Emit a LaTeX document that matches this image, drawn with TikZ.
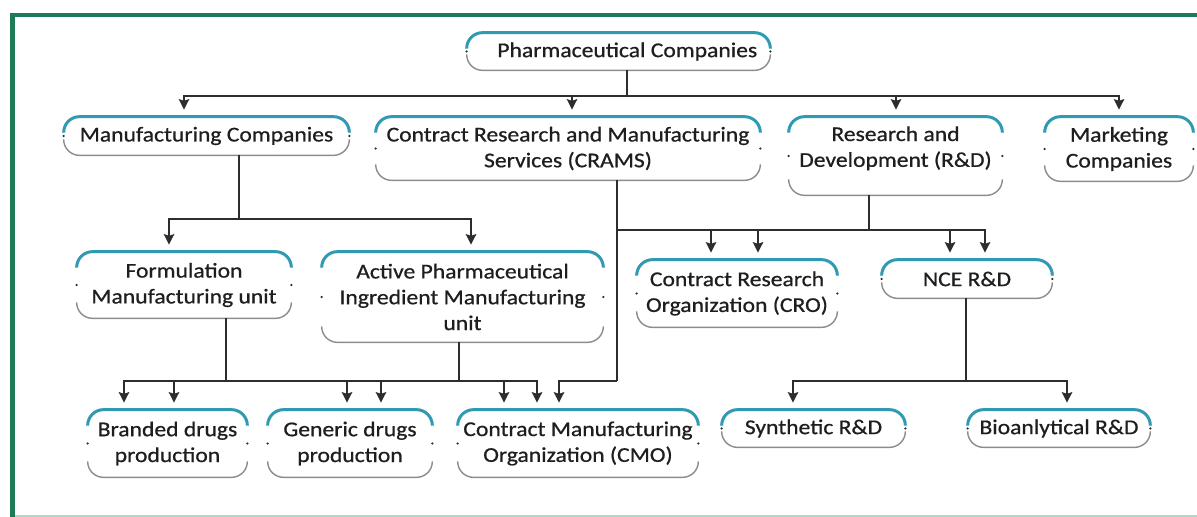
\documentclass[tikz,border=0pt]{standalone}
\usepackage{fontspec}
\setmainfont{Carlito}[FakeStretch=1.12,RawFeature={embolden=0.7}]
\usetikzlibrary{calc,arrows.meta}
\definecolor{framegreen}{RGB}{31,122,87}
\definecolor{framemint}{RGB}{170,218,200}
\definecolor{capteal}{RGB}{48,154,178}
\definecolor{basegray}{RGB}{140,140,140}
\definecolor{linkgray}{RGB}{45,45,45}
\definecolor{inkgray}{RGB}{30,30,30}
\tikzset{
  box/.style={inner sep=0pt, align=center, text=inkgray,
    font=\fontsize{12}{14.7}\selectfont},
  topcap/.style={capteal, line width=1.7pt, rounded corners=9pt},
  bottomline/.style={basegray, line width=0.8pt, rounded corners=9pt},
  link/.style={linkgray, line width=0.85pt},
  arr/.style={link, -{Stealth[length=6pt,width=6pt,inset=1pt]}, shorten >=4pt},
}
% teal cap on top, grey base below, dots at the sides
\newcommand\boxlines[1]{%
  \draw[topcap] ($(#1.north west)+(0,16)$) |- (#1.north) -| ($(#1.north east)+(0,16)$);
  \draw[bottomline] ($(#1.south west)+(0,-16)$) |- (#1.south) -| ($(#1.south east)+(0,-16)$);
  \fill[linkgray] (#1.west) circle (0.7pt) (#1.east) circle (0.7pt);}
\begin{document}
\begin{tikzpicture}[x=0.02cm,y=-0.02cm]
  \useasboundingbox (0,0) rectangle (1197,517);
  \fill[framegreen] (10,13) rectangle (1197,17);
  \fill[framegreen] (10,13) rectangle (15,517);
  \draw[framemint,line width=1pt] (15,516)--(1197,516);

  \node[box,minimum width=6.06cm,minimum height=0.74cm] (pharma) at (618.5,51.5) {\hspace*{10pt}Pharmaceutical Companies};
  \node[box,minimum width=5.7cm,minimum height=0.76cm] (manuf) at (206.5,136) {Manufacturing Companies};
  \node[box,minimum width=7.68cm,minimum height=1.26cm] (crams) at (568,148.5) {Contract Research and Manufacturing\\Services (CRAMS)};
  \node[box,minimum width=4.26cm,minimum height=1.56cm] (rnd) at (895.5,156) {Research and\\Development (R\&D)\\[-4pt]\mbox{}};
  \node[box,minimum width=2.96cm,minimum height=1.28cm] (mkt) at (1119,149) {Marketing\\Companies};
  \node[box,minimum width=4.28cm,minimum height=1.32cm] (form) at (184,285) {Formulation\\Manufacturing unit};
  \node[box,minimum width=5.62cm,minimum height=1.8cm] (api) at (462.5,297) {Active Pharmaceutical\\Ingredient Manufacturing\\unit};
  \node[box,minimum width=4cm,minimum height=1.34cm] (cro) at (737,293.5) {Contract Research\\Organization (CRO)};
  \node[box,minimum width=3.4cm,minimum height=0.76cm] (nce) at (967,279) {NCE R\&D};
  \node[box,minimum width=3.18cm,minimum height=1.34cm] (brand) at (167.5,443.5) {Branded drugs\\production};
  \node[box,minimum width=3.28cm,minimum height=1.34cm] (gener) at (350,443.5) {Generic drugs\\production};
  \node[box,minimum width=4.8cm,minimum height=1.34cm] (cmo) at (578,443.5) {Contract Manufacturing\\Organization (CMO)};
  \node[box,minimum width=3.66cm,minimum height=0.74cm] (synth) at (813.5,428.5) {Synthetic R\&D};
  \node[box,minimum width=3.64cm,minimum height=0.74cm] (bioan) at (1059,428.5) {Bioanlytical R\&D};

  \foreach \n in {pharma,manuf,crams,rnd,mkt,form,api,cro,nce,brand,gener,cmo,synth,bioan}
    {\boxlines{\n}}

  \coordinate (topbus) at (627,96);
  \coordinate (manbus) at (239,219);
  \coordinate (crbus) at (617,230);
  \coordinate (rdbus) at (869,230);
  \coordinate (cmbus) at (617,381);
  \coordinate (fmbus) at (226,381);
  \coordinate (apbus) at (459,381);
  \coordinate (ncebus) at (966,381);

  % first level
  \draw[link] (pharma.south -| topbus) -- (topbus);
  \draw[arr] (topbus) -| ($(manuf.north)+(-22.5,0)$);
  \draw[arr] (topbus) -| ($(crams.north)+(4,0)$);
  \draw[arr] (topbus) -| ($(rnd.north)+(0.5,0)$);
  \draw[arr] (topbus) -| (mkt.north);

  % manufacturing
  \draw[link] (manuf.south -| manbus) -- (manbus);
  \draw[arr] (manbus) -| ($(form.north)+(-15,0)$);
  \draw[arr] (manbus) -| ($(api.north)+(8.5,0)$);

  % CRAMS and R&D
  \draw[link] (crams.south -| crbus) -- (cmbus);
  \draw[arr] (crbus) -| ($(cro.north)+(-26,0)$);
  \draw[arr] (crbus) -| ($(nce.north)+(-17,0)$);
  \draw[arr] (cmbus) -| ($(cmo.north)+(-19,0)$);
  \draw[link] (rnd.south -| rdbus) -- (rdbus);
  \draw[arr] (rdbus) -| ($(cro.north)+(21,0)$);
  \draw[arr] (rdbus) -| ($(nce.north)+(18,0)$);

  % production
  \draw[link] (form.south -| fmbus) -- (fmbus);
  \draw[arr] (fmbus) -| ($(brand.north)+(-43.5,0)$);
  \draw[arr] (fmbus) -| ($(gener.north)+(-3,0)$);
  \draw[arr] (fmbus) -| ($(cmo.north)+(-74,0)$);
  \draw[link] (api.south -| apbus) -- (apbus);
  \draw[arr] (apbus) -| ($(brand.north)+(6.5,0)$);
  \draw[arr] (apbus) -| ($(gener.north)+(31,0)$);
  \draw[arr] (apbus) -| ($(cmo.north)+(-41,0)$);

  % NCE
  \draw[link] (nce.south -| ncebus) -- (ncebus);
  \draw[arr] (ncebus) -| ($(synth.north)+(-20.5,0)$);
  \draw[arr] (ncebus) -| ($(bioan.north)+(8,0)$);
\end{tikzpicture}
\end{document}
